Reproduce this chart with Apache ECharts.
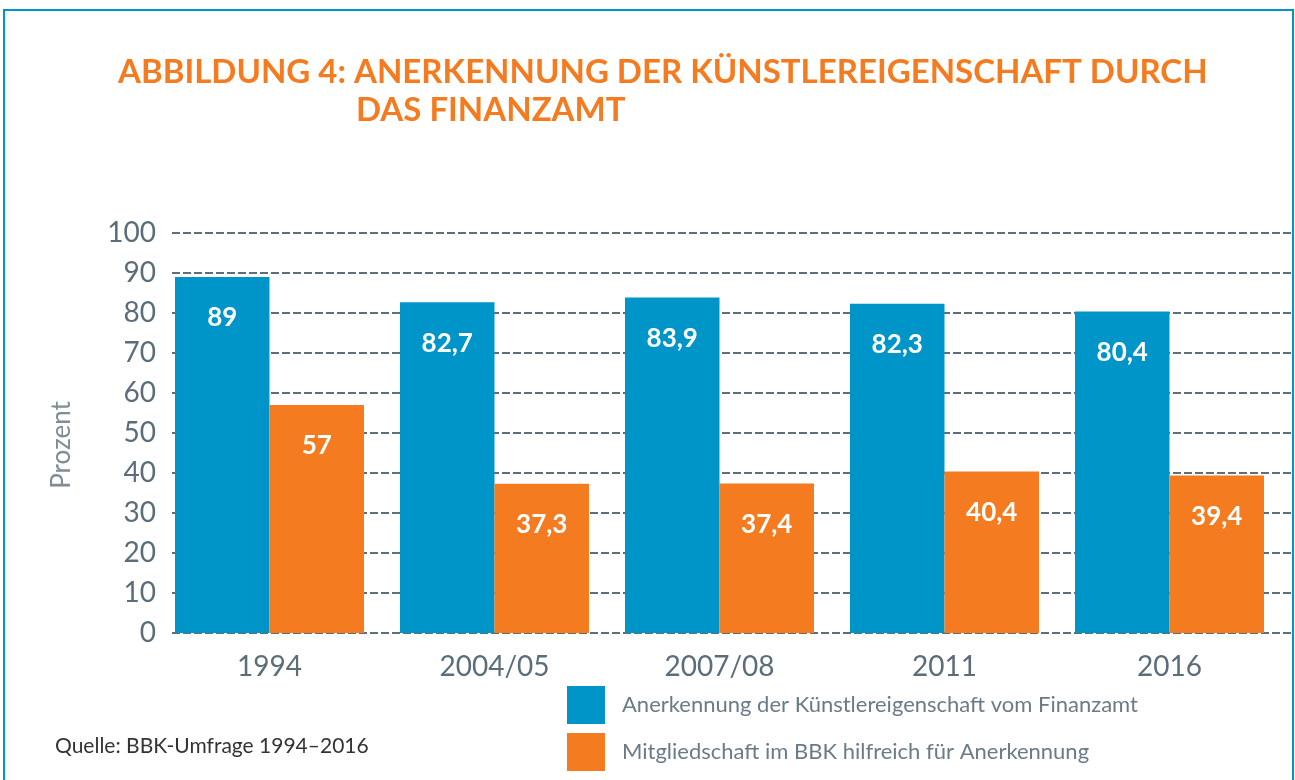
<!DOCTYPE html>
<html>
<head>
<meta charset="utf-8">
<script src="https://cdn.jsdelivr.net/npm/echarts@6/dist/echarts.min.js"></script>
<style>html,body{margin:0;padding:0;background:#fff;}#c{width:1295px;height:780px;}</style>
</head>
<body>
<div id="c"></div>
<script>
const categories = ['1994', '2004/05', '2007/08', '2011', '2016'];
const anerkennung = [89, 82.7, 83.9, 82.3, 80.4];
const mitgliedschaft = [57, 37.3, 37.4, 40.4, 39.4];
const seriesNames = ['Anerkennung der Künstlereigenschaft vom Finanzamt', 'Mitgliedschaft im BBK hilfreich für Anerkennung'];
const titleLine1 = 'ABBILDUNG 4: ANERKENNUNG DER KÜNSTLEREIGENSCHAFT DURCH';
const titleLine2 = 'DAS FINANZAMT';
const sourceText = 'Quelle: BBK-Umfrage 1994–2016';
const yAxisTitle = 'Prozent';

const BLUE = '#0095c9';
const ORANGE = '#f47b20';
const fmt = v => String(v.value).replace('.', ',');

const chart = echarts.init(document.getElementById('c'));
chart.setOption({
  backgroundColor: '#fff',
  animation: false,
  graphic: [
    { type: 'polyline', shape: { points: [[4, 780], [4, 10], [1293, 10], [1293, 780]] }, style: { stroke: BLUE, lineWidth: 2, fill: null } },
    { type: 'text', left: 118, top: 56, style: { text: titleLine1, font: 'bold 33px Lato', fill: ORANGE } },
    { type: 'text', left: 356, top: 94, style: { text: titleLine2, font: 'bold 33px Lato', fill: ORANGE } },
    { type: 'text', left: 55, top: 736, style: { text: sourceText, font: '21px Lato', fill: '#333' } },
    { type: 'text', x: 62, y: 445, rotation: Math.PI / 2, style: { text: yAxisTitle, font: '26px Lato', fill: '#7f8d96', align: 'center', verticalAlign: 'middle' } }
  ],
  legend: {
    orient: 'vertical', left: 567, top: 686, itemWidth: 38, itemHeight: 38, itemGap: 9, padding: 0,
    icon: 'rect',
    textStyle: { fontFamily: 'Lato', fontSize: 22, color: '#6b7b86', padding: [0, 0, 0, 12] },
    data: seriesNames
  },
  grid: [
    { left: 157, right: 13, top: 233, bottom: 147 },
    { left: 172, right: 3, top: 233, bottom: 147 }
  ],
  xAxis: [
    {
      type: 'category', data: categories, gridIndex: 0,
      axisLine: { show: false }, axisTick: { show: false },
      axisLabel: { fontFamily: 'Lato', fontSize: 28, color: '#5a6d79', margin: 20 }
    },
    { type: 'value', gridIndex: 1, show: false, min: 0, max: 1 }
  ],
  yAxis: [
    {
      type: 'value', min: 0, max: 100, interval: 10, gridIndex: 0,
      axisLine: { show: false }, axisTick: { show: false },
      axisLabel: { fontFamily: 'Lato', fontSize: 28, color: '#5a6d79', margin: 1 },
      splitLine: { show: false }
    },
    {
      type: 'value', min: 0, max: 100, interval: 10, gridIndex: 1, z: 0,
      axisLine: { show: false }, axisTick: { show: false }, axisLabel: { show: false },
      splitLine: { lineStyle: { color: '#5f6f7a', width: 2, type: [8, 3] } }
    }
  ],
  series: [
    {
      name: seriesNames[0], type: 'bar', data: anerkennung, barGap: '0%', barCategoryGap: '16%', z: 5,
      itemStyle: { color: BLUE },
      label: { show: true, position: 'insideTop', distance: 28, formatter: fmt, fontFamily: 'Lato', fontWeight: 'bold', fontSize: 26, color: '#fff' }
    },
    {
      name: seriesNames[1], type: 'bar', data: mitgliedschaft, z: 5,
      itemStyle: { color: ORANGE },
      label: { show: true, position: 'insideTop', distance: 28, formatter: fmt, fontFamily: 'Lato', fontWeight: 'bold', fontSize: 26, color: '#fff' }
    }
  ]
});
</script>
</body>
</html>
